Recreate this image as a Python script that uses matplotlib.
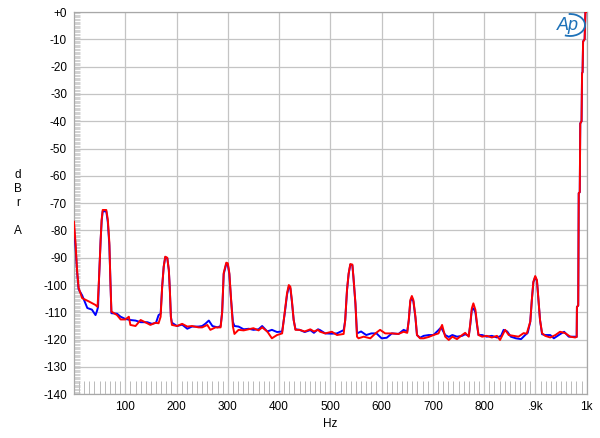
import numpy as np
import matplotlib
matplotlib.use("Agg")
import matplotlib.pyplot as plt
from matplotlib.patches import Arc
from matplotlib.ticker import MultipleLocator

plt.rcParams['font.family'] = ['Liberation Sans', 'DejaVu Sans']

# spectrum readings, Hz / dBrA
red_hz = [0, 3, 6, 9, 16, 29, 42, 46, 49, 52, 54, 56, 63, 66, 69, 71, 73, 84, 91, 100,
          107, 110, 120, 130, 143, 149, 159, 165, 169, 172, 175, 178, 182, 185, 187, 189, 191,
          201, 211, 221, 230, 243, 250, 260, 266, 276, 286, 289, 292, 297, 300, 303, 306, 310,
          313, 321, 331, 341, 350, 360, 367, 377, 386, 396, 406, 411, 415.6, 419, 422, 425,
          428.5, 432, 440, 450, 461, 468, 476, 480, 490, 503, 513, 526, 529, 532.5, 535.7, 539,
          543, 545, 549, 552, 555, 565, 578, 588, 597, 607, 620, 633, 643, 650, 653, 656, 659,
          662, 666, 669, 675, 682, 692, 701, 711, 718, 724, 731, 738, 747, 757, 763, 770, 773,
          776, 779, 783, 786, 789, 796, 805, 815, 825, 831, 841, 848, 857, 867, 877, 883, 890,
          893, 896, 899.6, 903, 906, 909, 913, 919, 929, 939, 948, 958, 968, 977.5, 980.5, 981,
          983.5, 984.5, 986.5, 987.5, 990, 991, 992, 993, 996, 997.5, 1000]
red_db = [-76.8, -84.6, -94.5, -101, -104.8, -106, -107.3, -108, -97, -83.5, -76, -72.5, -72.5,
          -76, -84.5, -98.5, -109.7, -111, -112.6, -112.6, -111.6, -114.6, -115, -112.8, -114,
          -114.6, -113.8, -114, -111.6, -100.6, -93.3, -89.6, -90, -94.5, -101.8, -111.6, -114.6,
          -115, -114.2, -115.2, -115, -115.5, -115.5, -114.6, -116.4, -115.5, -115.5, -110, -95.6,
          -91.8, -92, -95.6, -104.2, -115.2, -117.9, -116.4, -116.6, -116.2, -115.8, -116.6,
          -115.5, -117, -119.5, -118.3, -117.7, -110, -102.9, -100, -100.6, -105.5, -112.8,
          -116.4, -116.4, -117, -116.2, -117, -116.4, -117.1, -117.7, -117.1, -118.3, -117.9,
          -112.8, -101.8, -95.7, -92.3, -92.5, -96.9, -106.7, -118.9, -119.5, -118.9, -119.5,
          -117.7, -116.4, -117.7, -117.7, -117.9, -117.1, -117.5, -112.8, -105.5, -104, -105.5,
          -111.6, -118.3, -119.5, -119.5, -119, -118.3, -117.7, -114.6, -118.9, -120.1, -118.9,
          -119.8, -118.3, -117.5, -118.9, -114, -108.5, -106.7, -109.1, -114, -118.3, -118.9,
          -118.6, -119.2, -118.6, -120.1, -116.4, -118.3, -118.6, -118.9, -117.6, -117.8, -113.4,
          -105.5, -98.8, -96.7, -98.2, -105.5, -112.8, -117.6, -118.6, -119.2, -118.3, -117.1,
          -117.6, -118.9, -119.2, -119, -108, -107.5, -66.3, -66, -40.8, -40, -22.4, -22, -10.8,
          -10, 0, 0]

blue_hz = [0, 3, 6, 9, 16, 22, 26, 35, 42, 45, 47, 49, 52, 54, 56, 63, 66, 69, 71, 73, 84, 91,
           100, 110, 120, 130, 143, 152, 160, 165, 169, 172, 175, 178, 182, 185, 187, 189, 191,
           201, 211, 221, 230, 243, 250, 256, 263, 270, 280, 286, 289, 292, 297, 300, 303, 306,
           310, 313, 321, 331, 341, 350, 360, 367, 377, 386, 396, 406, 411, 415.6, 419, 422, 425,
           428.5, 432, 440, 450, 461, 468, 476, 480, 490, 503, 513, 526, 529, 532.5, 535.7, 539,
           543, 545, 549, 552, 560, 570, 580, 590, 600, 610, 620, 633, 643, 650, 653, 656, 659,
           662, 666, 669, 675, 682, 692, 701, 711, 716, 724, 731, 738, 747, 757, 763, 770, 773,
           776, 779, 783, 786, 789, 796, 805, 815, 825, 833, 838, 845, 852, 862, 872, 880, 885,
           890, 893, 896, 899.6, 903, 906, 909, 913, 919, 929, 936, 948, 956, 965, 977.5, 980.5,
           981, 983.5, 984.5, 986.5, 987.5, 990, 991, 992, 993, 996, 997.5, 1000]
blue_db = [-79, -86, -95, -101.5, -103.8, -106.6, -108.4, -109, -111, -109.4, -108, -97, -83.5,
           -76.5, -73, -73, -77, -85.5, -98.5, -110.3, -110.5, -111.6, -112.4, -112.8, -113,
           -113.6, -113.6, -114.2, -113.8, -111, -110.5, -100.6, -93.3, -89.8, -90.2, -94.5,
           -101.8, -111.6, -113.8, -115, -114.5, -116, -115.2, -115.2, -115, -114.2, -113, -115,
           -115.5, -115, -110, -96, -92.3, -92.5, -96, -104.5, -113.5, -115, -115.2, -116.2, -116,
           -116.4, -116.2, -115, -117, -116.4, -117.2, -117, -110.5, -103.5, -100.6, -101.2, -106,
           -112.8, -116.2, -116.4, -117.2, -116.5, -117.5, -116.2, -116.5, -117.7, -117.8, -117.7,
           -116.5, -113, -102, -96, -92.5, -92.8, -97, -107, -117.7, -117, -118.3, -117.7, -117.7,
           -119.5, -119.3, -117.7, -117.9, -116.4, -117, -113, -106, -104.6, -106, -112, -118.3,
           -119.3, -118.6, -118.3, -118.3, -116.5, -115.5, -118.3, -119, -118.3, -118.9, -118.6,
           -118, -118.6, -114.5, -109, -108.5, -110, -114.5, -118.3, -118.3, -118.9, -118.6,
           -119.2, -118.6, -116.4, -117, -118.9, -119.5, -119.8, -118.3, -117.5, -113.4, -105.5,
           -99, -97, -98.5, -105.5, -112.8, -118, -118.3, -118.3, -119.5, -118, -117.1, -118.9,
           -118.9, -119, -108, -107.5, -66.3, -66, -40.8, -40, -22.4, -22, -10.8, -10, 0, 0]

y_ticks = list(range(0, -141, -10))
y_labels = ['+0'] + [str(v) for v in y_ticks[1:]]
x_ticks = [100, 200, 300, 400, 500, 600, 700, 800, 900, 1000]
x_labels = ['100', '200', '300', '400', '500', '600', '700', '800', '.9k', '1k']

fig = plt.figure(figsize=(6, 4.38), dpi=100)
ax = fig.add_axes([0.1233, 0.0998, 0.8545, 0.8728])

ax.plot(blue_hz, blue_db, color='#0000ff', lw=1.4, zorder=3)
ax.plot(red_hz, red_db, color='#ff0000', lw=1.4, zorder=4)

ax.set_xlim(0, 1000)
ax.set_ylim(-140, 0)
ax.set_xticks(x_ticks)
ax.set_xticklabels(x_labels)
ax.set_yticks(y_ticks)
ax.set_yticklabels(y_labels)
ax.tick_params(axis='both', length=0, labelsize=8.5, colors='black')
ax.tick_params(axis='x', pad=5)
ax.tick_params(axis='y', pad=5)
ax.grid(True, color='#c4c4c4', lw=0.9)
ax.set_axisbelow(True)
for s in ax.spines.values():
    s.set_color('#a8a8a8')
    s.set_linewidth(0.9)

# short minor ticks drawn inside like the AP plots
ax.yaxis.set_minor_locator(MultipleLocator(0.5))
ax.tick_params(axis='y', which='minor', direction='in', length=4.5, width=0.5, color='#c0c0c0')
ax.xaxis.set_minor_locator(MultipleLocator(10))
ax.tick_params(axis='x', which='minor', direction='in', length=9.5, width=0.6, color='#b0b0b0')

# axis labels
for ch, yy in zip(['d', 'B', 'r', 'A'], [175, 189, 203, 231]):
    fig.text(18 / 600, 1 - yy / 438, ch, fontsize=8.5, ha='center', va='center')
fig.text(330 / 600, 1 - 424 / 438, 'Hz', fontsize=8.5, ha='center', va='center')

# Ap logo
fig.text(568 / 600, 1 - 26 / 438, 'Ap', fontsize=13, style='italic', color='#1d71b8',
         ha='center', va='center', family=['Liberation Sans'])
logo = Arc((570 / 600, 1 - 25 / 438), 30 / 600, 22 / 438, theta1=-110, theta2=95,
           transform=fig.transFigure, color='#1d71b8', lw=1.3)
fig.patches.append(logo)

fig.savefig('out.png', dpi=100)
